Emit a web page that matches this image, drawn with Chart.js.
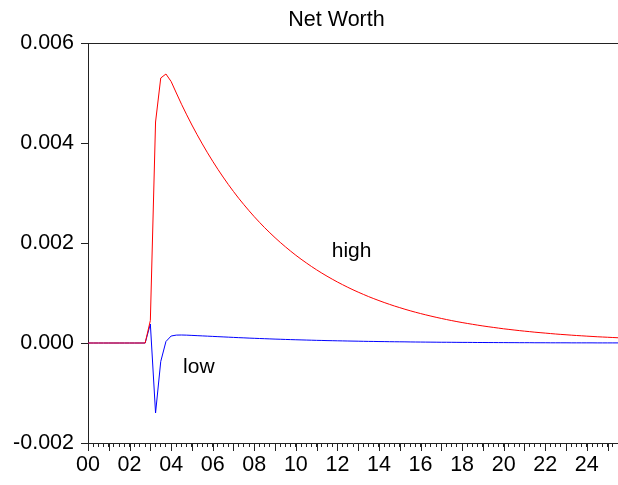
<!DOCTYPE html>
<html><head><meta charset="utf-8">
<script src="https://cdn.jsdelivr.net/npm/chart.js@4"></script>
<style>html,body{margin:0;padding:0;background:#fff}#wrap{width:618px;height:485px}</style>
</head><body><div id="wrap"><canvas id="c" width="618" height="485"></canvas></div>
<script>
// ---- data ----
const titleText = 'Net Worth';
const quarters = [];
for (let y = 2000; y <= 2025; y++) for (let q = 1; q <= 4; q++) if (quarters.length < 103) quarters.push(y + 'Q' + q);
const xTickLabels = ['00','02','04','06','08','10','12','14','16','18','20','22','24'];
const yTickValues = [-0.002, 0.000, 0.002, 0.004, 0.006];

const high = [
  0,0,0,0,0,0,0,0,0,0,
  0,0,0.00045,0.00442,0.00530,0.00538,0.00523,0.00500,0.004775,0.004563,
  0.004360,0.004166,0.003981,0.003804,0.003635,0.003473,0.003319,0.003171,0.003030,0.002895,
  0.002767,0.002644,0.002526,0.002414,0.002306,0.002204,0.002106,0.002012,0.001923,0.001837,
  0.001755,0.001677,0.001603,0.001531,0.001463,0.001398,0.001336,0.001277,0.001220,0.001166,
  0.001114,0.001064,0.001017,0.000972,0.000928,0.000887,0.000848,0.000810,0.000774,0.000739,
  0.000707,0.000675,0.000645,0.000616,0.000589,0.000563,0.000538,0.000514,0.000491,0.000469,
  0.000448,0.000428,0.000409,0.000391,0.000374,0.000357,0.000341,0.000326,0.000312,0.000298,
  0.000284,0.000272,0.000260,0.000248,0.000237,0.000227,0.000216,0.000207,0.000198,0.000189,
  0.000180,0.000172,0.000165,0.000157,0.000150,0.000144,0.000137,0.000131,0.000125,0.000120,
  0.000115,0.000110,0.000105
];
const low = [
  0,0,0,0,0,0,0,0,0,0,
  0,0,0.00038,-0.00140,-0.00037,0.00003,0.00014,0.000158,0.000160,0.000157,
  0.000152,0.000147,0.000142,0.000137,0.000132,0.000127,0.000122,0.000117,0.000112,0.000107,
  0.000103,0.000098,0.000094,0.000090,0.000086,0.000082,0.000078,0.000075,0.000071,0.000068,
  0.000065,0.000062,0.000059,0.000056,0.000053,0.000051,0.000048,0.000046,0.000044,0.000042,
  0.000040,0.000038,0.000036,0.000034,0.000032,0.000031,0.000029,0.000028,0.000026,0.000025,
  0.000024,0.000023,0.000021,0.000020,0.000019,0.000018,0.000017,0.000016,0.000015,0.000015,
  0.000014,0.000013,0.000012,0.000012,0.000011,0.000010,0.000010,0.000009,0.000009,0.000008,
  0.000008,0.000007,0.000007,0.000006,0.000006,0.000006,0.000005,0.000005,0.000005,0.000004,
  0.000004,0.000004,0.000004,0.000003,0.000003,0.000003,0.000003,0.000003,0.000002,0.000002,
  0.000002,0.000002,0.000002
];
const seriesNames = ['high', 'low'];
// text notes placed in data coordinates (quarter index, value)
const noteText = ['high', 'low'];
const noteX = [46.9, 18.3];
const noteY = [0.00172, -0.00059];

// ---- chart ----
const FONT = "'Liberation Sans', Arial, sans-serif";
const AXIS = '#222';
const extras = {
  id: 'extras',
  afterDraw(chart) {
    const ctx = chart.ctx, a = chart.chartArea;
    const xs = chart.scales.x, ys = chart.scales.y;
    ctx.save();
    // top border
    ctx.strokeStyle = AXIS; ctx.lineWidth = 1;
    ctx.beginPath(); ctx.moveTo(a.left, a.top + 0.5); ctx.lineTo(a.right, a.top + 0.5); ctx.stroke();
    // yearly (longer) ticks
    ctx.beginPath();
    for (let i = 0; i < quarters.length; i += 4) {
      const px = Math.round(xs.getPixelForValue(i)) + 0.5;
      ctx.moveTo(px, a.bottom); ctx.lineTo(px, a.bottom + 8);
    }
    ctx.stroke();
    // title
    ctx.fillStyle = '#000';
    ctx.font = '21.5px ' + FONT;
    ctx.textAlign = 'center'; ctx.textBaseline = 'alphabetic';
    ctx.fillText(titleText, 336.5, 26);
    // notes
    ctx.font = '21px ' + FONT;
    ctx.textAlign = 'left';
    for (let k = 0; k < noteText.length; k++) {
      ctx.fillText(noteText[k], xs.getPixelForValue(noteX[k]), ys.getPixelForValue(noteY[k]));
    }
    ctx.restore();
  }
};

new Chart(document.getElementById('c'), {
  type: 'line',
  data: {
    labels: quarters,
    datasets: [
      { label: seriesNames[0], data: high, borderColor: '#ff0000', borderWidth: 1, pointRadius: 0, tension: 0, fill: false },
      { label: seriesNames[1], data: low, borderColor: '#0000ff', borderWidth: 1, pointRadius: 0, tension: 0, fill: false }
    ]
  },
  options: {
    responsive: false,
    animation: false,
    devicePixelRatio: 1,
    layout: { padding: { left: 0, right: 0, top: 43, bottom: 0 } },
    plugins: { legend: { display: false }, tooltip: { enabled: false }, title: { display: false } },
    scales: {
      x: {
        type: 'category',
        offset: false,
        grid: { drawOnChartArea: false, drawTicks: true, tickLength: 4, color: AXIS },
        border: { display: true, color: AXIS, width: 1 },
        ticks: {
          autoSkip: false, maxRotation: 0, minRotation: 0, padding: 5,
          color: '#000', font: { family: FONT, size: 21.5 },
          callback: (v, i) => (i % 8 === 0 ? xTickLabels[i / 8] : '')
        },
        afterFit: s => { s.height = 42; s.paddingLeft = 0; s.paddingRight = 0; }
      },
      y: {
        type: 'linear',
        min: -0.002, max: 0.006,
        afterBuildTicks: s => { s.ticks = yTickValues.map(v => ({ value: v })); },
        grid: { drawOnChartArea: false, drawTicks: true, tickLength: 7, color: AXIS },
        border: { display: true, color: AXIS, width: 1 },
        ticks: {
          padding: 7, color: '#000', font: { family: FONT, size: 21.5 },
          callback: v => v.toFixed(3)
        },
        afterFit: s => { s.width = 88; s.paddingTop = 0; s.paddingBottom = 0; }
      }
    }
  },
  plugins: [extras]
});
</script>
</body></html>
